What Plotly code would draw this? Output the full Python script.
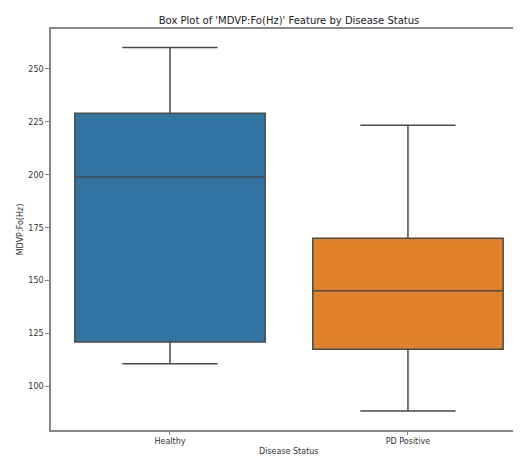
import plotly.graph_objects as go

categories = ["Healthy", "PD Positive"]
lower_whisker = [110.739, 88.333]
q1_values = [120.948, 117.572]
median_values = [198.996, 145.174]
q3_values = [229.077, 170.071]
upper_whisker = [260.105, 223.361]
box_colors = ["#3274a1", "#e1812c"]

title_text = "Box Plot of 'MDVP:Fo(Hz)' Feature by Disease Status"
x_title = "Disease Status"
y_title = "MDVP:Fo(Hz)"
y_tick_vals = [100, 125, 150, 175, 200, 225, 250]

# The page body has an 8px margin, so the figure is drawn 8px right and 8px down.
W, H = 513, 449
L, T, B = 43, 21, 27
plot_h = H - T - B

fig = go.Figure()
for i, cat in enumerate(categories):
    fig.add_trace(go.Box(
        x=[cat],
        q1=[q1_values[i]],
        median=[median_values[i]],
        q3=[q3_values[i]],
        lowerfence=[lower_whisker[i]],
        upperfence=[upper_whisker[i]],
        fillcolor=box_colors[i],
        line=dict(color="#4a4a4a", width=1.5),
        width=0.8,
        whiskerwidth=0.5,
        boxpoints=False,
        showlegend=False,
        hoverinfo="skip",
    ))

font_family = "DejaVu Sans"
fig.update_layout(
    width=W, height=H,
    margin=dict(l=L, r=0, t=T, b=B, autoexpand=False),
    paper_bgcolor="white", plot_bgcolor="white",
    boxmode="overlay",
    title=dict(text=title_text, x=281 / W, xanchor="center", y=1 - 12 / H, yanchor="middle",
               font=dict(family=font_family, size=10, color="#222")),
    font=dict(family=font_family, size=8, color="#333"),
    annotations=[dict(
        text=x_title, xref="paper", yref="paper",
        x=(289 - 51) / (W - L), y=-(452 - 430) / plot_h,
        xanchor="center", yanchor="middle", showarrow=False,
        font=dict(family=font_family, size=8, color="#333"),
    )],
)
fig.update_xaxes(
    type="category",
    categoryorder="array", categoryarray=categories,
    range=[-0.5, 1.475],
    showline=True, linecolor="#888", linewidth=1.5, mirror=True,
    ticks="outside", ticklen=3, tickcolor="#888",
    showgrid=False, zeroline=False,
    tickfont=dict(family=font_family, size=8, color="#333"),
)
fig.update_yaxes(
    range=[79.4, 268.9],
    tickvals=y_tick_vals,
    showline=True, linecolor="#888", linewidth=1.5, mirror=False,
    ticks="outside", ticklen=4, tickcolor="#888",
    showgrid=False, zeroline=False,
    tickfont=dict(family=font_family, size=8, color="#333"),
    title=dict(text=y_title, standoff=4, font=dict(family=font_family, size=8, color="#333")),
)

fig.write_html("out.html")
